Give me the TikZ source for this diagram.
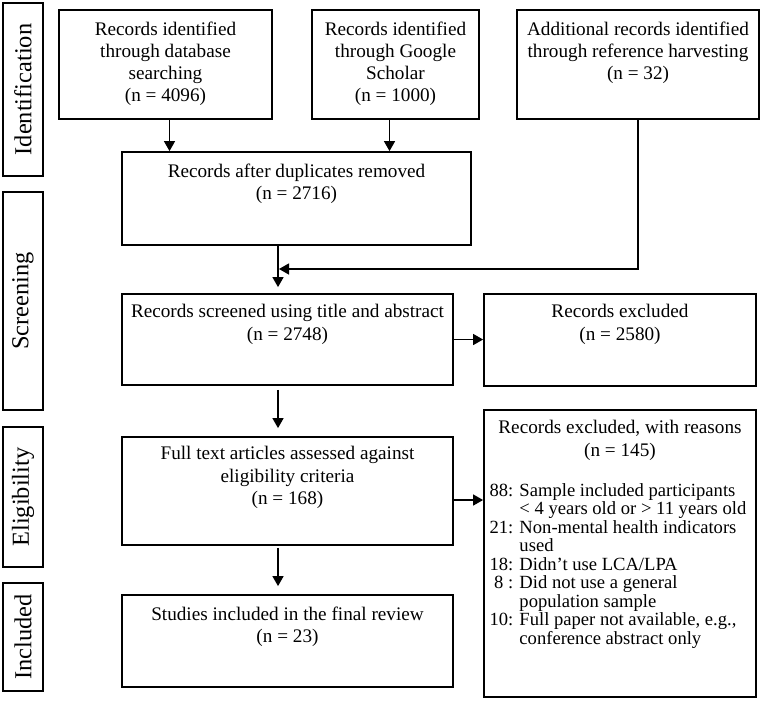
\documentclass[tikz,border=0pt]{standalone}
\usepackage{fontspec}
\setmainfont{Liberation Serif}
\usetikzlibrary{positioning, arrows.meta}

\begin{document}
\begin{tikzpicture}[x = 0.5pt, y = -0.5pt,
	box/.style = {draw, line width = 0.9pt, inner sep = 0pt},
	stage/.style = {draw, line width = 0.9pt, inner sep = 0pt, rotate = 90, minimum height = 20pt, font = \fontsize{12.2}{14}\selectfont},
	txt/.style = {inner sep = 0pt, align = center, font = \fontsize{9.6}{11.15}\selectfont},
	flow/.style = {line width = 0.7pt, -{Triangle[length = 5pt, width = 5.5pt]}}]
	\useasboundingbox (0,0) rectangle (765,702);
	% phases
	\node[stage, minimum width = 86.5pt] (ident) at (23,89.5) {Identification};
	\node[stage, minimum width = 109pt] (screen) at (23,301) {Screening};
	\node[stage, minimum width = 70pt] (elig) at (23,497) {Eligibility};
	\node[stage, minimum width = 54pt] (incl) at (23,637) {Included};
	% boxes
	\node[box, minimum width = 106.5pt, minimum height = 54.5pt] (db) at (165.5,64.5) {};
	\node[box, minimum width = 83.5pt, minimum height = 54.5pt] (gs) at (395.5,64.5) {};
	\node[box, minimum width = 121pt, minimum height = 54.5pt] (harv) at (638,64.5) {};
	\node[box, minimum width = 174.5pt, minimum height = 46.5pt] (dup) at (296.5,198.5) {};
	\node[box, minimum width = 165.5pt, minimum height = 45.5pt] (scr) at (287.5,339.5) {};
	\node[box, minimum width = 136pt, minimum height = 46pt] (excl) at (620,340) {};
	\node[box, minimum width = 165.5pt, minimum height = 54pt] (full) at (287.5,491) {};
	\node[box, minimum width = 136pt, minimum height = 143.5pt] (exclfull) at (620,553.5) {};
	\node[box, minimum width = 165.5pt, minimum height = 46pt] (final) at (287.5,641) {};
	% texts
	\node[txt, below = 6pt of db.north] (dbtxt) {Records identified\\through database\\searching\\(n = 4096)};
	\node[txt, below = 6pt of gs.north] (gstxt) {Records identified\\through Google\\Scholar\\(n = 1000)};
	\node[txt, below = 6pt of harv.north] (harvtxt) {Additional records identified\\through reference harvesting\\(n = 32)};
	\node[txt, below = 6pt of dup.north] (duptxt) {Records after duplicates removed\\(n = 2716)};
	\node[txt, below = 5.5pt of scr.north] (scrtxt) {Records screened using title and abstract\\(n = 2748)};
	\node[txt, below = 5.5pt of excl.north] (excltxt) {Records excluded\\(n = 2580)};
	\node[txt, below = 5pt of full.north] (fulltxt) {Full text articles assessed against\\eligibility criteria\\(n = 168)};
	\node[txt, below = 5.5pt of exclfull.north] (exclfulltxt) {Records excluded, with reasons\\(n = 145)};
	\node[txt, below = 6pt of final.north] (finaltxt) {Studies included in the final review\\(n = 23)};
	\node[inner sep = 0pt, below right = 37pt and 3pt of exclfull.north west, font = \fontsize{9.3}{9.25}\selectfont] (reasons) {%
		\begin{tabular}{@{}l@{ }l@{}}
			88: & Sample included participants\\
			& < 4 years old or > 11 years old\\
			21: & Non-mental health indicators\\
			& used\\
			18: & Didn’t use LCA/LPA\\
			\ 8 : & Did not use a general\\
			& population sample\\
			10: & Full paper not available, e.g.,\\
			& conference abstract only
		\end{tabular}};
	% arrows
	\coordinate (col) at (278,0);
	\coordinate (join) at (279,269);
	\coordinate (reasony) at (0,500);
	\draw[flow] ([xshift = 2pt]db.south) -- ([xshift = 2pt]db.south |- dup.north);
	\draw[flow] ([xshift = -3pt]gs.south) -- ([xshift = -3pt]gs.south |- dup.north);
	\draw[flow, shorten >= 3pt] (col |- dup.south) -- (col |- scr.north);
	\draw[flow] (harv.south) |- (join);
	\draw[flow] (scr.east) -- (scr.east -| excl.west);
	\draw[flow, shorten <= 2pt, shorten >= 4pt] (col |- scr.south) -- (col |- full.north);
	\draw[flow] (full.east |- reasony) -- (exclfull.west |- reasony);
	\draw[flow, shorten <= 1pt, shorten >= 4pt] (col |- full.south) -- (col |- final.north);
\end{tikzpicture}
\end{document}
